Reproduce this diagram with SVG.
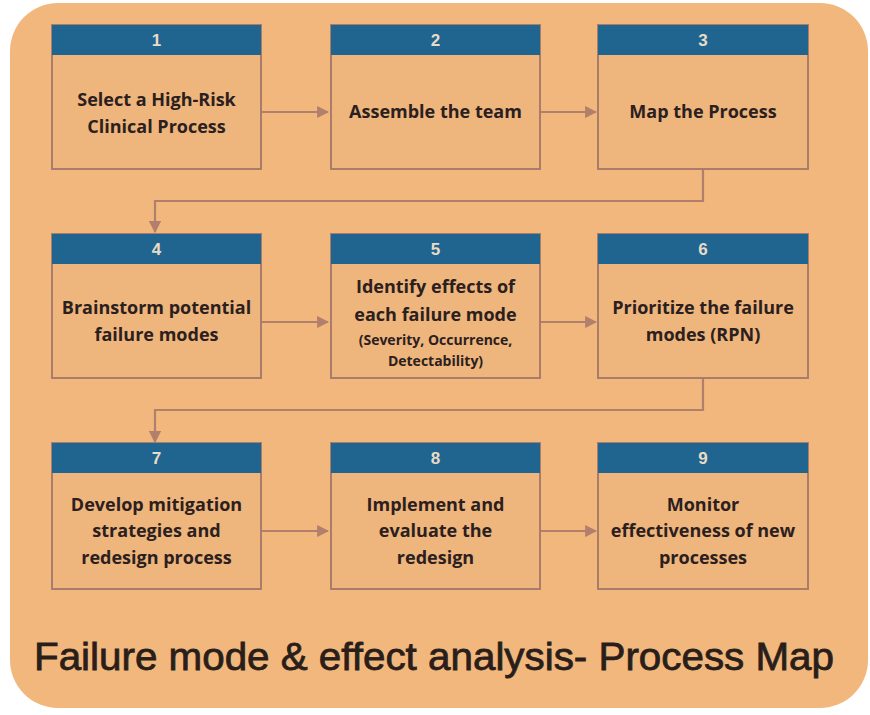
<svg xmlns="http://www.w3.org/2000/svg" width="870" height="715" viewBox="0 0 870 715">
<defs>
<style>
.bg{fill:#F1B77D}
.body{fill:#EEB57C;stroke:#A97C6B;stroke-width:2}
.hdr{fill:#1F6590}
.num{font-family:"Liberation Sans",Arial,sans-serif;font-weight:bold;font-size:17px;fill:#E9DCC6;text-anchor:middle}
.t{font-family:"Open Sans","Liberation Sans",sans-serif;font-weight:bold;font-size:18px;fill:#2B201E;text-anchor:middle}
.s{font-family:"Open Sans","Liberation Sans",sans-serif;font-weight:bold;font-size:14px;fill:#2B201E;text-anchor:middle}
.c{fill:none;stroke:#B27F6D;stroke-width:2.2}
.title{font-family:"Liberation Sans",Arial,sans-serif;font-size:39px;fill:#2A1E1A;stroke:#2A1E1A;stroke-width:0.8}
</style>
<marker id="ah" viewBox="0 0 10 10" refX="9" refY="5" markerWidth="5.5" markerHeight="5.5" orient="auto" markerUnits="strokeWidth">
<path d="M0,0 L10,5 L0,10 Z" fill="#B27F6D"/>
</marker>
</defs>
<rect x="0" y="0" width="870" height="715" fill="#FFFFFF"/>
<rect class="bg" x="10" y="3" width="858" height="705" rx="48" ry="48"/>

<g id="connectors">
<line class="c" x1="262" y1="112" x2="328" y2="112" marker-end="url(#ah)"/>
<line class="c" x1="541" y1="112" x2="596" y2="112" marker-end="url(#ah)"/>
<polyline class="c" points="703,170 703,201 155,201 155,232" marker-end="url(#ah)"/>
<line class="c" x1="262" y1="322" x2="328" y2="322" marker-end="url(#ah)"/>
<line class="c" x1="541" y1="322" x2="596" y2="322" marker-end="url(#ah)"/>
<polyline class="c" points="703,379 703,410 155,410 155,442" marker-end="url(#ah)"/>
<line class="c" x1="262" y1="531" x2="328" y2="531" marker-end="url(#ah)"/>
<line class="c" x1="541" y1="531" x2="596" y2="531" marker-end="url(#ah)"/>
</g>

<g id="node1">
<rect class="body" x="52" y="25" width="209" height="144"/>
<rect class="hdr" x="52" y="25" width="209" height="30"/>
<text class="num" x="156.5" y="46">1</text>
<text class="t" x="156.5" y="106">Select a High-Risk</text>
<text class="t" x="156.5" y="133">Clinical Process</text>
</g>
<g id="node2">
<rect class="body" x="331" y="25" width="209" height="144"/>
<rect class="hdr" x="331" y="25" width="209" height="30"/>
<text class="num" x="435.5" y="46">2</text>
<text class="t" x="435.5" y="118">Assemble the team</text>
</g>
<g id="node3">
<rect class="body" x="598" y="25" width="210" height="144"/>
<rect class="hdr" x="598" y="25" width="210" height="30"/>
<text class="num" x="703" y="46">3</text>
<text class="t" x="703" y="118">Map the Process</text>
</g>

<g id="node4">
<rect class="body" x="52" y="234" width="209" height="144"/>
<rect class="hdr" x="52" y="234" width="209" height="30"/>
<text class="num" x="156.5" y="255">4</text>
<text class="t" x="156.5" y="314">Brainstorm potential</text>
<text class="t" x="156.5" y="341">failure modes</text>
</g>
<g id="node5">
<rect class="body" x="331" y="234" width="209" height="144"/>
<rect class="hdr" x="331" y="234" width="209" height="30"/>
<text class="num" x="435.5" y="255">5</text>
<text class="t" x="435.5" y="293">Identify effects of</text>
<text class="t" x="435.5" y="321">each failure mode</text>
<text class="s" x="435.5" y="345">(Severity, Occurrence,</text>
<text class="s" x="435.5" y="366">Detectability)</text>
</g>
<g id="node6">
<rect class="body" x="598" y="234" width="210" height="144"/>
<rect class="hdr" x="598" y="234" width="210" height="30"/>
<text class="num" x="703" y="255">6</text>
<text class="t" x="703" y="314">Prioritize the failure</text>
<text class="t" x="703" y="341">modes (RPN)</text>
</g>

<g id="node7">
<rect class="body" x="52" y="443" width="209" height="146"/>
<rect class="hdr" x="52" y="443" width="209" height="30"/>
<text class="num" x="156.5" y="464">7</text>
<text class="t" x="156.5" y="511">Develop mitigation</text>
<text class="t" x="156.5" y="537">strategies and</text>
<text class="t" x="156.5" y="564">redesign process</text>
</g>
<g id="node8">
<rect class="body" x="331" y="443" width="209" height="146"/>
<rect class="hdr" x="331" y="443" width="209" height="30"/>
<text class="num" x="435.5" y="464">8</text>
<text class="t" x="435.5" y="511">Implement and</text>
<text class="t" x="435.5" y="537">evaluate the</text>
<text class="t" x="435.5" y="564">redesign</text>
</g>
<g id="node9">
<rect class="body" x="598" y="443" width="210" height="146"/>
<rect class="hdr" x="598" y="443" width="210" height="30"/>
<text class="num" x="703" y="464">9</text>
<text class="t" x="703" y="511">Monitor</text>
<text class="t" x="703" y="537">effectiveness of new</text>
<text class="t" x="703" y="564">processes</text>
</g>

<text class="title" x="34" y="670" textLength="800" lengthAdjust="spacingAndGlyphs">Failure mode &amp; effect analysis- Process Map</text>
</svg>
